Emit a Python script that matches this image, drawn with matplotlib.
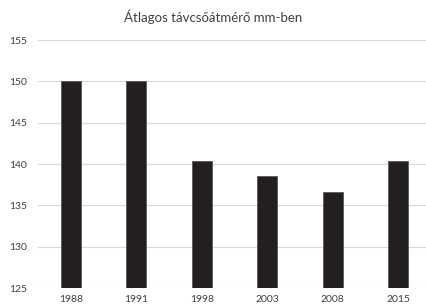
import numpy as np
import matplotlib.pyplot as plt

years = ['1988', '1991', '1998', '2003', '2008', '2015']
values = [150.0, 150.0, 140.4, 138.5, 136.6, 140.4]
yticks = [125, 130, 135, 140, 145, 150, 155]

plt.rcParams['font.family'] = ['Lato', 'DejaVu Sans']

fig = plt.figure(figsize=(4.26, 3.07), dpi=100)
ax = fig.add_axes([38/426, 19/307, 393/426, 248/307])

x = np.arange(len(years))
ax.bar(x, values, width=0.31, color='#231f20', edgecolor='#595959', linewidth=0.6, zorder=3)

ax.set_ylim(125, 155)
ax.set_yticks(yticks)
ax.set_xlim(-0.5, len(years) - 0.5)
ax.set_xticks(x)
ax.set_xticklabels(years)
ax.grid(axis='y', color='#d9d9d9', linewidth=0.8, zorder=0)
for s in ax.spines.values():
    s.set_visible(False)
ax.tick_params(length=0, labelsize=7.5, colors='#404040')
ax.tick_params(axis='y', pad=8)
ax.tick_params(axis='x', pad=5)

fig.text(0.5, 1 - 17/307, 'Átlagos távcsőátmérő mm-ben', ha='center', va='center',
         fontsize=9.5, color='#404040')

fig.savefig('out.png', dpi=100)
